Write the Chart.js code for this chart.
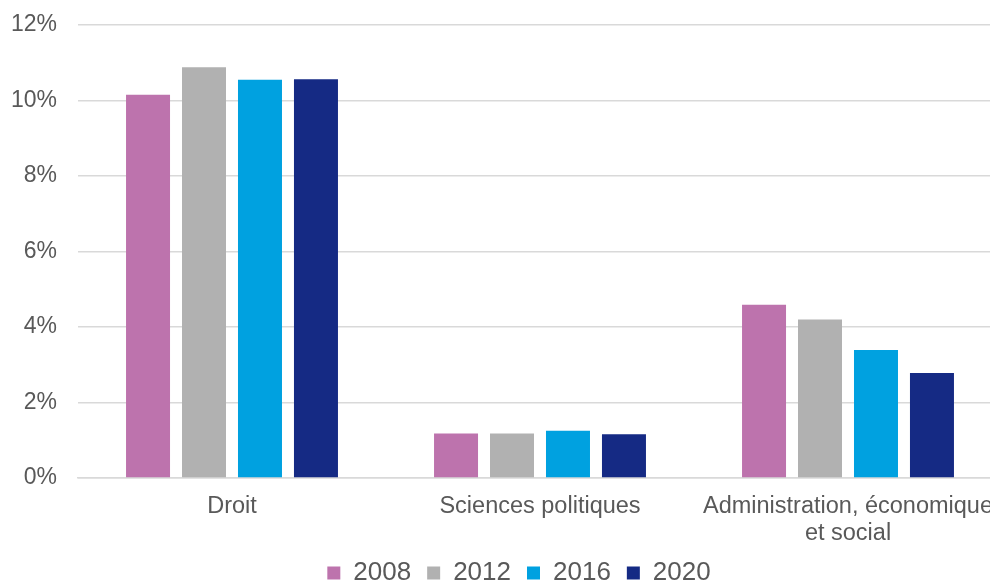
<!DOCTYPE html>
<html>
<head>
<meta charset="utf-8">
<script src="https://cdn.jsdelivr.net/npm/chart.js@4/dist/chart.umd.min.js"></script>
<style>
    html, body { margin: 0; padding: 0; background: #ffffff; overflow: hidden; }
    #wrap { position: relative; width: 1004px; height: 580px; }
</style>
</head>
<body>
<div id="wrap"><canvas id="chart"></canvas></div>
<script>
// Data (percent)
const categories = ['Droit', 'Sciences politiques', ['Administration, économique', 'et social']];
const years = ['2008', '2012', '2016', '2020'];
const values2008 = [10.15, 1.18, 4.59];
const values2012 = [10.88, 1.18, 4.20];
const values2016 = [10.55, 1.25, 3.39];
const values2020 = [10.56, 1.16, 2.78];
const yTicks = [0, 2, 4, 6, 8, 10, 12];

const colors = ['#bd73ad', '#b1b1b1', '#00a1e0', '#152a84'];
const series = [values2008, values2012, values2016, values2020];

const textColor = '#595959';
const gridColor = '#d9d9d9';

// nudge the legend a bit right, the original isn't centred on the canvas
const legendShift = {
    id: 'legendShift',
    afterLayout(chart) {
        if (chart.legend) {
            chart.legend.left += 13;
            chart.legend.right += 13;
        }
    }
};

const ctx = document.getElementById('chart').getContext('2d');
new Chart(ctx, {
    type: 'bar',
    data: {
        labels: categories,
        datasets: series.map((vals, i) => ({
            label: years[i],
            data: vals,
            backgroundColor: colors[i],
            borderWidth: 0,
            categoryPercentage: 0.727,
            barPercentage: 0.786
        }))
    },
    plugins: [legendShift],
    options: {
        responsive: true,
        maintainAspectRatio: false,
        animation: false,
        layout: {
            padding: { left: 10, right: 2, top: 0, bottom: -16 }
        },
        plugins: {
            legend: {
                position: 'bottom',
                labels: {
                    color: textColor,
                    font: { family: 'Liberation Sans', size: 26 },
                    boxWidth: 13,
                    boxHeight: 13,
                    padding: 16
                }
            },
            tooltip: { enabled: false }
        },
        scales: {
            y: {
                min: 0,
                max: 12,
                afterBuildTicks: (axis) => {
                    axis.ticks = yTicks.map(v => ({ value: v }));
                },
                afterFit: (scale) => {
                    // tick padding is counted twice by default, keep the axis tight
                    scale.width = 68;
                    scale.paddingTop = 25;
                    scale.paddingBottom = 0;
                },
                ticks: {
                    color: textColor,
                    font: { family: 'Liberation Sans', size: 23 },
                    padding: 21,
                    callback: (v) => v + '%'
                },
                grid: {
                    color: gridColor,
                    lineWidth: 1.5,
                    drawTicks: false
                },
                border: { display: false }
            },
            x: {
                afterFit: (scale) => {
                    scale.height = 66;
                    scale.paddingLeft = 0;
                    scale.paddingRight = 0;
                },
                ticks: {
                    color: textColor,
                    font: { family: 'Liberation Sans', size: 23.5, lineHeight: 1.15 },
                    padding: 15,
                    maxRotation: 0,
                    autoSkip: false
                },
                grid: { display: false, drawTicks: false },
                border: { display: true, color: gridColor, width: 1.5 }
            }
        }
    }
});
</script>
</body>
</html>
